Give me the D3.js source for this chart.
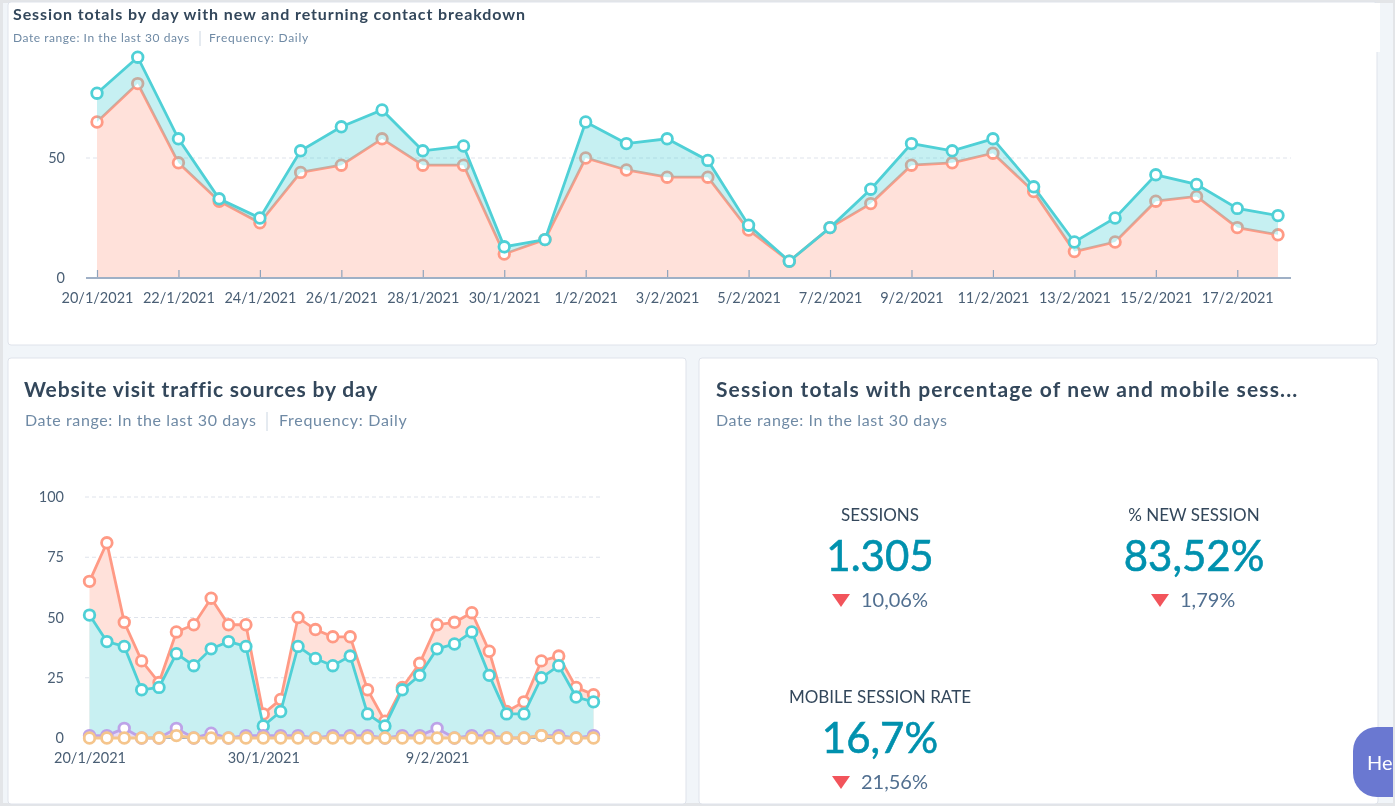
<!DOCTYPE html>
<html>
<head>
<meta charset="utf-8">
<script src="https://cdn.jsdelivr.net/npm/d3@7"></script>
<style>
html, body { margin: 0; padding: 0; background: #f1f5f9; overflow: hidden; }
svg { display: block; font-family: Lato, "Open Sans", sans-serif; filter: blur(0.35px); }
.domain { display: none; }
.tick text { fill: #4a5f75; font-family: Lato, "Open Sans", sans-serif; font-size: 14.5px; }
.tick line { stroke: #8fa3bc; stroke-width: 1.2; }
.title { fill: #33475b; font-weight: 700; }
.sub { fill: #6f8aa5; }
.kpi-label { fill: #33475b; font-size: 17px; text-anchor: middle; }
.kpi-value { fill: #0091ae; stroke: #0091ae; stroke-width: 0.6; font-size: 42px; text-anchor: middle; }
.kpi-delta { fill: #516f90; font-size: 20px; }
</style>
</head>
<body>
<svg id="chart" width="1395" height="806"></svg>
<script>
// days shown on both time charts
const days = ['20/1/2021','21/1/2021','22/1/2021','23/1/2021','24/1/2021','25/1/2021','26/1/2021','27/1/2021','28/1/2021','29/1/2021',
	'30/1/2021','31/1/2021','1/2/2021','2/2/2021','3/2/2021','4/2/2021','5/2/2021','6/2/2021','7/2/2021','8/2/2021',
	'9/2/2021','10/2/2021','11/2/2021','12/2/2021','13/2/2021','14/2/2021','15/2/2021','16/2/2021','17/2/2021','18/2/2021']

const topTickDays = ['20/1/2021','22/1/2021','24/1/2021','26/1/2021','28/1/2021','30/1/2021','1/2/2021','3/2/2021','5/2/2021','7/2/2021','9/2/2021','11/2/2021','13/2/2021','15/2/2021','17/2/2021']
const bottomTickDays = ['20/1/2021','30/1/2021','9/2/2021']
const topTicks = [0, 50]
const bottomTicks = [0, 25, 50, 75, 100]

const sessionTotals = [77,92,58,33,25,53,63,70,53,55,13,16,65,56,58,49,22,7,21,37,56,53,58,38,15,25,43,39,29,26]
const newSessions = [65,81,48,32,23,44,47,58,47,47,10,16,50,45,42,42,20,7,21,31,47,48,52,36,11,15,32,34,21,18]

const directTraffic = [65,81,48,32,23,44,47,58,47,47,10,16,50,45,42,42,20,7,21,31,47,48,52,36,11,15,32,34,21,18]
const organicTraffic = [51,40,38,20,21,35,30,37,40,38,5,11,38,33,30,34,10,5,20,26,37,39,44,26,10,10,25,30,17,15]
const referralTraffic = [1,1,4,0,0,4,0,2,0,1,1,1,1,0,1,1,1,0,1,1,4,0,1,1,0,0,1,1,0,1]
const socialTraffic = [0,0,0,0,0,1,0,0,0,0,0,0,0,0,0,0,0,0,0,0,0,0,0,0,0,0,1,0,0,0]

const kpiLabels = ['SESSIONS', '% NEW SESSION', 'MOBILE SESSION RATE']
const kpiValues = ['1.305', '83,52%', '16,7%']
const kpiDeltas = ['10,06%', '1,79%', '21,56%']

const teal = '#4fd0d6'
const coral = '#ff9a85'
const purple = '#bda3e8'
const sand = '#f5c58c'

const svg = d3.select('#chart')

// page frame and cards
svg.append('rect').attr('width', 1395).attr('height', 806).attr('fill', '#e3e5e8')
svg.append('rect').attr('x', 3).attr('y', 3).attr('width', 1390).attr('height', 800).attr('fill', '#f1f5f9')

const card = (x, y, w, h) => svg.append('rect')
	.attr('x', x).attr('y', y).attr('width', w).attr('height', h).attr('rx', 3)
	.attr('fill', '#fff').attr('stroke', '#dfe3eb').attr('stroke-width', 1)

card(8, 2, 1369, 343)
card(8, 358, 678, 446)
card(699, 358, 679, 446)
svg.append('rect').attr('x', 10).attr('y', 3).attr('width', 1370).attr('height', 49).attr('fill', '#fff')

const heading = (x, y, size, spacing, txt) => svg.append('text').attr('class', 'title')
	.attr('x', x).attr('y', y).attr('font-size', size).attr('letter-spacing', spacing).text(txt)
const subhead = (x, y, size, spacing, txt) => svg.append('text').attr('class', 'sub')
	.attr('x', x).attr('y', y).attr('font-size', size).attr('letter-spacing', spacing).text(txt)
const divider = (x, y1, y2) => svg.append('line')
	.attr('x1', x).attr('x2', x).attr('y1', y1).attr('y2', y2).attr('stroke', '#cbd6e2')

heading(13, 20, 16, 0.9, 'Session totals by day with new and returning contact breakdown')
subhead(13, 42, 12, 0.55, 'Date range: In the last 30 days')
divider(200, 31, 46)
subhead(209, 42, 12, 0.75, 'Frequency: Daily')

heading(24, 397, 21, 0.83, 'Website visit traffic sources by day')
subhead(25, 426, 16, 0.6, 'Date range: In the last 30 days')
divider(267, 412, 431)
subhead(279, 426, 16, 0.7, 'Frequency: Daily')

heading(716, 397, 21, 1.13, 'Session totals with percentage of new and mobile sess...')
subhead(716, 426, 16, 0.6, 'Date range: In the last 30 days')

function drawGrid(g, y, yTicks, left, right) {
	g.append('g').selectAll('line').data(yTicks.filter((d) => d > 0)).enter().append('line')
		.attr('x1', left).attr('x2', right)
		.attr('y1', (d) => y(d)).attr('y2', (d) => y(d))
		.attr('stroke', '#dfe3eb').attr('stroke-dasharray', '4,3')

	g.append('g')
		.attr('transform', `translate(${left - 21}, 0)`)
		.call(d3.axisLeft(y).tickValues(yTicks).tickSize(0).tickPadding(0))
}

function drawXAxis(g, x, y, tickDays, tickLen, left, right) {
	g.append('g')
		.attr('transform', `translate(0, ${y(0)})`)
		.call(d3.axisBottom(x).tickValues(tickDays).tickSizeInner(-tickLen).tickSizeOuter(0).tickPadding(15))
	g.append('line').attr('x1', left).attr('x2', right)
		.attr('y1', y(0)).attr('y2', y(0))
		.attr('stroke', '#9fb0c6').attr('stroke-width', 1.8)
}

function drawSeries(g, x, y, values, color) {
	const line = d3.line().x((d, i) => x(days[i])).y((d) => y(d))
	g.append('path').attr('d', line(values))
		.attr('fill', 'none').attr('stroke', color).attr('stroke-width', 2.8)
	g.append('g').selectAll('circle').data(values).enter().append('circle')
		.attr('cx', (d, i) => x(days[i])).attr('cy', (d) => y(d))
		.attr('r', 5.3).attr('fill', '#fff').attr('stroke', color).attr('stroke-width', 2.8)
}

// session totals, new sessions below and the returning band stacked on them
const topX = d3.scalePoint().domain(days).range([97, 1278])
const topY = d3.scaleLinear().domain([0, 100]).range([278, 38])
const topChart = svg.append('g')

drawGrid(topChart, topY, topTicks, 86, 1291)

topChart.append('path')
	.attr('d', d3.area().x((d, i) => topX(days[i])).y0(topY(0)).y1((d) => topY(d))(newSessions))
	.attr('fill', '#ffe1da')
drawXAxis(topChart, topX, topY, topTickDays, 8, 86, 1291)
drawSeries(topChart, topX, topY, newSessions, coral)

topChart.append('path')
	.attr('d', d3.area().x((d, i) => topX(days[i])).y0((d, i) => topY(newSessions[i])).y1((d) => topY(d))(sessionTotals))
	.attr('fill', teal).attr('fill-opacity', 0.32)
drawSeries(topChart, topX, topY, sessionTotals, teal)

// traffic sources, areas overlap from the baseline
const botX = d3.scalePoint().domain(days).range([89.5, 593.5])
const botY = d3.scaleLinear().domain([0, 100]).range([738, 497])
const botChart = svg.append('g')

drawGrid(botChart, botY, bottomTicks, 85, 600)

const botArea = d3.area().x((d, i) => botX(days[i])).y0(botY(0)).y1((d) => botY(d))
botChart.append('path').attr('d', botArea(directTraffic)).attr('fill', '#ffe1da')
drawSeries(botChart, botX, botY, directTraffic, coral)
botChart.append('path').attr('d', botArea(organicTraffic)).attr('fill', '#c8f0f2')
drawXAxis(botChart, botX, botY, bottomTickDays, 0, 85, 600)
drawSeries(botChart, botX, botY, organicTraffic, teal)
botChart.append('path').attr('d', botArea(referralTraffic)).attr('fill', '#e6daf6')
drawSeries(botChart, botX, botY, referralTraffic, purple)
drawSeries(botChart, botX, botY, socialTraffic, sand)

// headline numbers
const kpiCenter = [880, 1194, 880]
const kpiTop = [521, 521, 703]
const kpiTriangle = [832, 1151, 832]
const kpiDeltaX = [861, 1180, 861]

kpiLabels.forEach((label, i) => {
	svg.append('text').attr('class', 'kpi-label').attr('x', kpiCenter[i]).attr('y', kpiTop[i]).text(label)
	svg.append('text').attr('class', 'kpi-value').attr('x', kpiCenter[i]).attr('y', kpiTop[i] + 50).text(kpiValues[i])
	svg.append('path')
		.attr('d', d3.line()([[kpiTriangle[i], kpiTop[i] + 73], [kpiTriangle[i] + 18, kpiTop[i] + 73], [kpiTriangle[i] + 9, kpiTop[i] + 86]]))
		.attr('fill', '#f2545b')
	svg.append('text').attr('class', 'kpi-delta').attr('x', kpiDeltaX[i]).attr('y', kpiTop[i] + 86).text(kpiDeltas[i])
})

// help widget, only its first letters fit before the window edge
svg.append('defs').append('clipPath').attr('id', 'help-clip')
	.append('rect').attr('x', 1340).attr('y', 720).attr('width', 53).attr('height', 80)
svg.append('rect').attr('x', 1353).attr('y', 727).attr('width', 90).attr('height', 70).attr('rx', 24)
	.attr('fill', '#6a78d1').attr('clip-path', 'url(#help-clip)')
svg.append('text').attr('x', 1367).attr('y', 770).attr('font-size', 20).attr('fill', '#fff').text('He')
</script>
</body>
</html>
